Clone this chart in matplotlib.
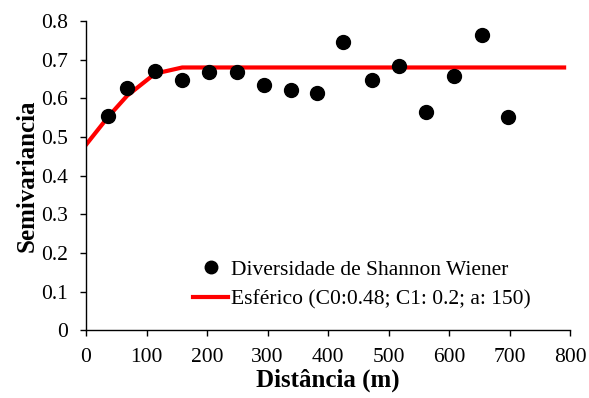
import matplotlib.pyplot as plt

plt.rcParams['font.family'] = ['Liberation Serif', 'DejaVu Serif']

# semivariograma experimental
distancia = [37, 68, 114, 159, 203, 249, 294, 339, 382, 424, 473, 517, 561, 608, 654, 698]
semivariancia = [0.555, 0.627, 0.672, 0.647, 0.668, 0.668, 0.634, 0.621, 0.614,
                 0.745, 0.647, 0.685, 0.565, 0.658, 0.765, 0.552]

# modelo esférico ajustado
modelo_x = [0, 37, 68, 114, 159, 790]
modelo_y = [0.48, 0.553, 0.607, 0.664, 0.68, 0.68]

fig = plt.figure(figsize=(5.89, 3.98), dpi=100)
ax = fig.add_axes([0.146, 0.170, 0.822, 0.777])

ax.plot(distancia, semivariancia, 'o', color='black', markersize=10,
        label='Diversidade de Shannon Wiener', zorder=3)
ax.plot(modelo_x, modelo_y, '-', color='#ff0000', linewidth=3,
        label='Esférico (C0:0.48; C1: 0.2; a: 150)', zorder=2)

ax.set_xlim(0, 800)
ax.set_ylim(0, 0.8)
ax.set_xticks(range(0, 801, 100))
ax.set_yticks([0, 0.1, 0.2, 0.3, 0.4, 0.5, 0.6, 0.7, 0.8])
ax.set_yticklabels(['0', '0.1', '0.2', '0.3', '0.4', '0.5', '0.6', '0.7', '0.8'])
ax.tick_params(direction='out', length=4.3, width=1, labelsize=15.5, pad=8.5)

for s in ['top', 'right']:
    ax.spines[s].set_visible(False)
for s in ['left', 'bottom']:
    ax.spines[s].set_linewidth(1)

ax.set_xlabel('Distância (m)', fontsize=18, fontweight='bold', labelpad=1)
ax.set_ylabel('Semivariancia', fontsize=18, fontweight='bold', labelpad=2)

ax.legend(loc='lower left', bbox_to_anchor=(0.204, 0.04), frameon=False,
          fontsize=15.5, handlelength=1.6, handletextpad=0.15, labelspacing=0.45,
          borderaxespad=0, markerscale=0.9)

fig.savefig('out.png', dpi=100)
